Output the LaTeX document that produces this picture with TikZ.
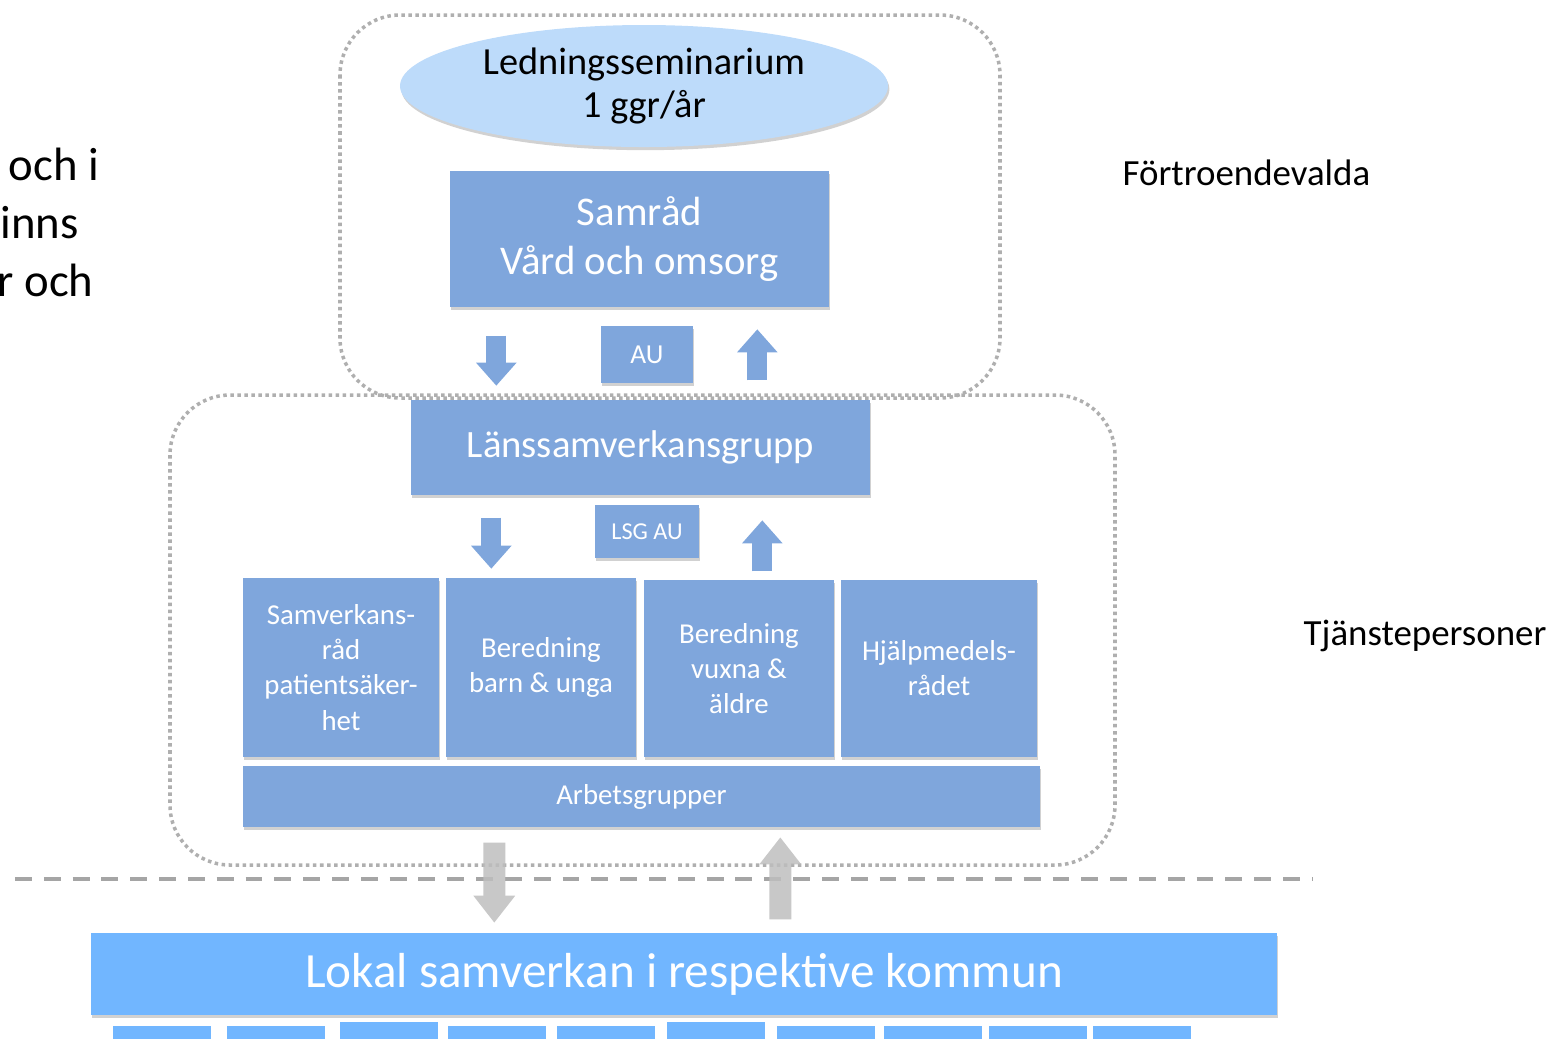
\documentclass[tikz,border=0pt]{standalone}
\usepackage{fontspec}
\setmainfont{Carlito}
\usetikzlibrary{arrows.meta,shadows,shapes.geometric}
\definecolor{boxblue}{RGB}{127,166,220}
\definecolor{ellblue}{RGB}{189,219,250}
\definecolor{lokalblue}{RGB}{113,182,255}
\definecolor{framegray}{RGB}{175,175,175}
\definecolor{dashgray}{RGB}{165,165,165}
\definecolor{pilgray}{RGB}{190,190,190}
\tikzset{
  skugga/.style={drop shadow={shadow xshift=0.4pt, shadow yshift=-0.9pt, fill=black, opacity=0.18}},
  blabox/.style={rectangle, fill=boxblue, text=white, align=center, inner sep=0pt, skugga},
  smabox/.style={rectangle, fill=lokalblue, inner sep=0pt, minimum width=0.98cm, minimum height=0.3cm, anchor=north west},
  ram/.style={draw=framegray, line width=1pt, dash pattern=on 1pt off 1pt, rounded corners=0.6cm},
  blapil/.style={draw=boxblue, line width=0.2cm, -{Triangle[width=0.39cm,length=0.23cm]}},
  grapil/.style={draw=pilgray, line width=0.22cm, -{Triangle[width=0.4cm,length=0.27cm]}},
  sida/.style={anchor=base west, inner sep=0pt, font=\fontsize{10.5}{12}\selectfont},
  kant/.style={anchor=base west, inner sep=0pt, font=\fontsize{13.3}{16}\selectfont}
}

\begin{document}
\begin{tikzpicture}
	%%%%% START %%%%%
	\useasboundingbox (0,0) rectangle (15.52,-10.38);
	
	% text cut off at the left edge
	\node[kant] (rad1) at (0.08,-1.80) {och i};
	\node[kant] (rad2) at (0.00,-2.38) {inns};
	\node[kant] (rad3) at (-0.03,-2.96) {r och};
	
	% dotted frames
	\draw[ram] (3.40,-0.15) rectangle (10.00,-3.98);
	\draw[ram] (1.70,-3.95) rectangle (11.15,-8.65);
	
	\node[sida] (fortr) at (11.22,-1.85) {Förtroendevalda};
	\node[sida] (tjanst) at (13.03,-6.45) {Tjänstepersoner};
	
	\node[ellipse, fill=ellblue, skugga, inner sep=0pt, minimum width=4.88cm, minimum height=1.22cm, align=center, font=\fontsize{10.9}{12.2}\selectfont] (sem) at (6.44,-0.86) {Ledningsseminarium\\1 ggr/år};
	
	\node[blabox, minimum width=3.79cm, minimum height=1.36cm, font=\fontsize{11.6}{14.2}\selectfont] (samrad) at (6.395,-2.39) {Samråd\\Vård och omsorg};
	\node[blabox, minimum width=0.92cm, minimum height=0.57cm, font=\fontsize{7.8}{9}\selectfont] (au) at (6.47,-3.545) {AU};
	
	\node[blabox, minimum width=4.59cm, minimum height=0.95cm, font=\fontsize{11}{13}\selectfont] (laens) at (6.405,-4.475) {Länssamverkansgrupp};
	\node[blabox, minimum width=1.04cm, minimum height=0.53cm, font=\fontsize{6.9}{8}\selectfont] (lsgau) at (6.47,-5.315) {LSG AU};
	
	\node[blabox, minimum width=1.96cm, minimum height=1.79cm, font=\fontsize{8.2}{10}\selectfont] (patsak) at (3.41,-6.675) {Samverkans-\\råd\\patientsäker-\\het};
	\node[blabox, minimum width=1.90cm, minimum height=1.79cm, font=\fontsize{8.2}{10}\selectfont] (barn) at (5.41,-6.675) {Beredning\\barn \& unga};
	\node[blabox, minimum width=1.90cm, minimum height=1.77cm, font=\fontsize{8.2}{10}\selectfont] (vuxna) at (7.39,-6.685) {Beredning\\vuxna \&\\äldre};
	\node[blabox, minimum width=1.96cm, minimum height=1.77cm, font=\fontsize{8.2}{10}\selectfont] (hjalp) at (9.39,-6.685) {Hjälpmedels-\\rådet};
	
	\node[blabox, minimum width=7.97cm, minimum height=0.61cm, font=\fontsize{8.2}{10}\selectfont] (arbets) at (6.415,-7.965) {Arbetsgrupper};
	
	\node[blabox, fill=lokalblue, minimum width=11.86cm, minimum height=0.82cm, font=\fontsize{14}{16}\selectfont] (lokal) at (6.84,-9.74) {Lokal samverkan i respektive kommun};
	\foreach \x/\t [count=\i] in {1.12/10.25, 2.26/10.25, 3.39/10.21, 4.47/10.25, 5.56/10.25, 6.66/10.21, 7.76/10.25, 8.83/10.25, 9.88/10.25, 10.92/10.25}
		\node[smabox] (kommun\i) at (\x,-\t) {};
	
	% arrows
	\draw[blapil] (samrad.south west) ++(0.47,-0.28) -- ++(0,-0.50);
	\draw[blapil] (laens.north west) ++(3.47,0.19) -- ++(0,0.51);
	\draw[blapil] (laens.south west) ++(0.81,-0.22) -- ++(0,-0.51);
	\draw[blapil] (vuxna.north west) ++(1.19,0.08) -- ++(0,0.51);
	
	\draw[dashgray, line width=1.4pt, dash pattern=on 4.8pt off 3.4pt] (0.15,-8.79) -- (13.12,-8.79);
	
	\begin{scope}[transparency group, opacity=0.85]
		\draw[grapil] (arbets.south west) ++(2.52,-0.15) -- ++(0,-0.80);
		\draw[grapil] (lokal.north west) ++(6.90,0.13) -- ++(0,0.82);
	\end{scope}
	%%%%% END %%%%%
\end{tikzpicture}
\end{document}
